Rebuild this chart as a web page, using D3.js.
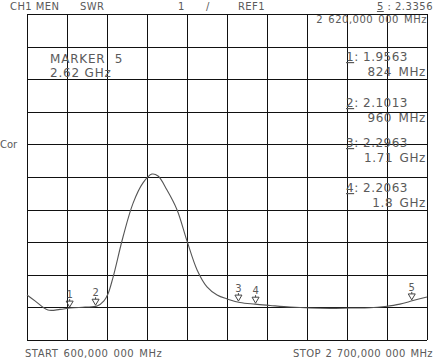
<!DOCTYPE html>
<html>
<head>
<meta charset="utf-8">
<script src="https://cdn.jsdelivr.net/npm/d3@7"></script>
<style>
	body { margin: 0; background: #fff; }
	svg text { font-family: "DejaVu Sans", sans-serif; fill: #5a5a5a; white-space: pre; }
</style>
</head>
<body>
<div id="chart"></div>
<script>

// data
// ----------------------------------------

var freqs = [600, 642, 710, 773, 826, 905, 968, 1004, 1025, 1052, 1104, 1157, 1209, 1256, 1288, 1335, 1388, 1440, 1493, 1545, 1598, 1650, 1718, 1797, 1876, 1981, 2086, 2191, 2296, 2401, 2480, 2558, 2627, 2700];
var swr = [2.38, 2.20, 1.92, 1.94, 1.98, 2.01, 2.04, 2.20, 2.41, 2.93, 4.16, 5.20, 5.82, 6.09, 6.03, 5.60, 4.99, 4.04, 3.15, 2.63, 2.38, 2.26, 2.15, 2.10, 2.06, 2.01, 1.98, 1.97, 1.98, 1.99, 2.03, 2.10, 2.21, 2.32];

var marker_ids = ["1", "2", "3", "4", "5"];
var marker_freqs = [824, 960, 1710, 1800, 2620];
var marker_values = ["1.9563", "2.1013", "2.2963", "2.2063", "2.3356"];
var marker_freq_labels = ["824 MHz", "960 MHz", "1.71 GHz", "1.8 GHz", "2.62 GHz"];

var header_labels = ["CH1 MEN", "SWR", "1", "/", "REF1"];
var header_x = [10, 80, 178, 206, 238];

var start_label = "START 600,000 000 MHz";
var stop_label = "STOP 2 700,000 000 MHz";

// main variables
// ----------------------------------------

var width = 438, height = 360;
var plot = {left: 27, right: 427, top: 14, bottom: 340};

var svg = d3.select("#chart")
	.append("svg")
	.attr("width", width)
	.attr("height", height)

var x = d3.scaleLinear().domain([600, 2700]).range([plot.left, plot.right]);
var y = d3.scaleLinear().domain([1, 11]).range([plot.bottom, plot.top]);

// grid
// ----------------------------------------

var grid = svg.append("g").attr("class", "grid");

grid.selectAll(".vline")
	.data(d3.range(0, 11))
	.enter()
	.append("line")
	.attr("x1", function(d) { return Math.round(x(600 + d * 210)) + 0.5; })
	.attr("x2", function(d) { return Math.round(x(600 + d * 210)) + 0.5; })
	.attr("y1", plot.top)
	.attr("y2", plot.bottom)
	.attr("stroke", "#111")
	.attr("stroke-width", 1)

grid.selectAll(".hline")
	.data(d3.range(1, 12))
	.enter()
	.append("line")
	.attr("x1", plot.left)
	.attr("x2", plot.right)
	.attr("y1", function(d) { return Math.round(y(d)) + 0.5; })
	.attr("y2", function(d) { return Math.round(y(d)) + 0.5; })
	.attr("stroke", "#111")
	.attr("stroke-width", 1)

// trace
// ----------------------------------------

var points = freqs.map(function(f, i) { return [f, swr[i]]; });

var line = d3.line()
	.x(function(d) { return x(d[0]); })
	.y(function(d) { return y(d[1]); })
	.curve(d3.curveCatmullRom.alpha(0.5))

svg.append("path")
	.datum(points)
	.attr("d", line)
	.attr("fill", "none")
	.attr("stroke", "#555")
	.attr("stroke-width", 1.1)

// trace value at a frequency (linear between read points)
function trace_at(f) {
	var i = d3.bisectRight(freqs, f);
	if (i <= 0) return swr[0];
	if (i >= freqs.length) return swr[swr.length - 1];
	var t = (f - freqs[i - 1]) / (freqs[i] - freqs[i - 1]);
	return swr[i - 1] + t * (swr[i] - swr[i - 1]);
}

// markers on the trace
var markers = svg.append("g")
	.selectAll("g")
	.data(marker_ids)
	.enter()
	.append("g")
	.attr("transform", function(d, i) {
		return "translate(" + x(marker_freqs[i]) + "," + (y(trace_at(marker_freqs[i])) - 1) + ")";
	})

markers.append("path")
	.attr("d", "M0,0 L-3.5,-6 L3.5,-6 Z M0,-6 L0,-8")
	.attr("fill", "none")
	.attr("stroke", "#444")
	.attr("stroke-width", 1)

markers.append("text")
	.attr("y", -9)
	.attr("text-anchor", "middle")
	.style("font-size", "10px")
	.text(function(d) { return d; })

// texts
// ----------------------------------------

svg.selectAll(".header")
	.data(header_labels)
	.enter()
	.append("text")
	.attr("x", function(d, i) { return header_x[i]; })
	.attr("y", 10)
	.style("font-size", "10px")
	.style("letter-spacing", "0.4px")
	.text(function(d) { return d; })

var active = 4;

var active_txt = svg.append("text")
	.attr("x", 433)
	.attr("y", 10)
	.attr("text-anchor", "end")
	.style("font-size", "10px")
	.style("letter-spacing", "0.5px")
active_txt.append("tspan").style("text-decoration", "underline").text(marker_ids[active]);
active_txt.append("tspan").text(" : " + marker_values[active]);

svg.append("text")
	.attr("x", 427)
	.attr("y", 23)
	.attr("text-anchor", "end")
	.style("font-size", "10px")
	.style("letter-spacing", "0.5px")
	.style("word-spacing", "1.5px")
	.text("2 620,000 000 MHz")

svg.append("text")
	.attr("x", 50)
	.attr("y", 63)
	.style("font-size", "12px")
	.style("letter-spacing", "0.8px")
	.text("MARKER  " + marker_ids[active])

svg.append("text")
	.attr("x", 50)
	.attr("y", 77)
	.style("font-size", "12px")
	.style("letter-spacing", "0.8px")
	.text(marker_freq_labels[active])

// marker list on the right
var list_y = [61, 107, 147, 192];

marker_ids.slice(0, 4).forEach(function(m, i) {
	var t = svg.append("text")
		.attr("x", 346)
		.attr("y", list_y[i])
		.style("font-size", "12px")
		.style("letter-spacing", "0.5px")
	t.append("tspan").style("text-decoration", "underline").text(m);
	t.append("tspan").text(": " + marker_values[i]);

	svg.append("text")
		.attr("x", 426)
		.attr("y", list_y[i] + 15)
		.attr("text-anchor", "end")
		.style("font-size", "12px")
		.style("letter-spacing", "0.6px")
		.style("word-spacing", "2px")
		.text(marker_freq_labels[i])
})

svg.append("text")
	.attr("x", 0)
	.attr("y", 148)
	.style("font-size", "10px")
	.text("Cor")

svg.append("text")
	.attr("x", 25)
	.attr("y", 357)
	.style("font-size", "10px")
	.style("letter-spacing", "0.5px")
	.style("word-spacing", "1.5px")
	.text(start_label)

svg.append("text")
	.attr("x", 433)
	.attr("y", 357)
	.attr("text-anchor", "end")
	.style("font-size", "10px")
	.style("letter-spacing", "0.4px")
	.style("word-spacing", "1px")
	.text(stop_label)

</script>
</body>
</html>
